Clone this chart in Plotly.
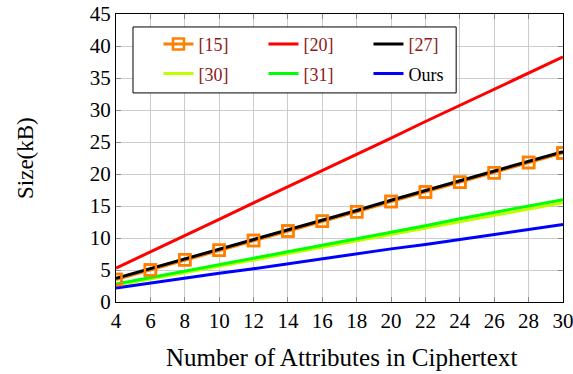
import plotly.graph_objects as go

x_vals = [4, 6, 8, 10, 12, 14, 16, 18, 20, 22, 24, 26, 28, 30]
ref15 = [3.5, 5.0, 6.6, 8.1, 9.6, 11.1, 12.6, 14.1, 15.7, 17.2, 18.7, 20.2, 21.8, 23.3]
ref20 = [5.3, 7.8, 10.4, 12.9, 15.5, 18.0, 20.5, 23.1, 25.6, 28.2, 30.7, 33.2, 35.8, 38.3]
ref27 = [3.7, 5.2, 6.8, 8.3, 9.8, 11.3, 12.8, 14.3, 15.9, 17.4, 18.9, 20.4, 22.0, 23.5]
ref30 = [2.6, 3.6, 4.6, 5.6, 6.6, 7.6, 8.5, 9.5, 10.5, 11.5, 12.5, 13.5, 14.5, 15.5]
ref31 = [2.8, 3.8, 4.8, 5.8, 6.9, 7.9, 8.9, 9.9, 10.9, 11.9, 13.0, 14.0, 15.0, 16.0]
ours = [2.2, 3.0, 3.7, 4.5, 5.2, 6.0, 6.8, 7.5, 8.3, 9.0, 9.8, 10.6, 11.3, 12.1]

x_title = "Number of Attributes in Ciphertext"
y_title = "Size(kB)"

CITE = "#8b1a1a"
FONT = "Liberation Serif"

def cite(s):
    return f'<span style="color:{CITE}">{s}</span>'

ORANGE = "#ff8000"
LW = 3
fig = go.Figure()
fig.add_trace(go.Scatter(x=x_vals, y=ref15, mode="lines+markers", name=cite("[15]"),
                         line=dict(color=ORANGE, width=LW),
                         marker=dict(symbol="square-open", size=11, color=ORANGE, line=dict(width=2.5, color=ORANGE)),
                         legend="legend", legendrank=1))
fig.add_trace(go.Scatter(x=x_vals, y=ref20, mode="lines", name=cite("[20]"),
                         line=dict(color="#ff0000", width=LW), legend="legend", legendrank=2))
fig.add_trace(go.Scatter(x=x_vals, y=ref30, mode="lines", name=cite("[30]"),
                         line=dict(color="#bfff00", width=LW), legend="legend2", legendrank=4))
fig.add_trace(go.Scatter(x=x_vals, y=ref31, mode="lines", name=cite("[31]"),
                         line=dict(color="#00ff00", width=LW), legend="legend2", legendrank=5))
fig.add_trace(go.Scatter(x=x_vals, y=ours, mode="lines", name="Ours",
                         line=dict(color="#0000ff", width=LW), legend="legend2", legendrank=6))
fig.add_trace(go.Scatter(x=x_vals, y=ref27, mode="lines", name=cite("[27]"),
                         line=dict(color="#000000", width=LW), legend="legend", legendrank=3))
fig.add_trace(go.Scatter(x=x_vals, y=ref15, mode="markers", showlegend=False,
                         marker=dict(symbol="square-open", size=11, color=ORANGE, line=dict(width=2.5, color=ORANGE))))

axis_common = dict(showgrid=True, gridcolor="#cccccc", gridwidth=1, showline=True, linecolor="black",
                   linewidth=1, mirror="ticks", ticks="inside", ticklen=5, tickcolor="#888888",
                   tickfont=dict(family=FONT, size=21, color="black"), zeroline=False, automargin=False,
                   ticklabeloverflow="allow")

fig.update_layout(
    width=573, height=374,
    margin=dict(l=116, r=10, t=14, b=72),
    plot_bgcolor="white", paper_bgcolor="white",
    font=dict(family=FONT, color="black"),
    xaxis=dict(range=[4, 30], dtick=2, tick0=4, **axis_common),
    yaxis=dict(range=[0, 45], dtick=5, tick0=0, **axis_common),
    legend=dict(orientation="h", x=0.095, xanchor="left", y=0.895, yanchor="middle",
                bgcolor="rgba(0,0,0,0)", font=dict(family=FONT, size=18), entrywidth=60,
                traceorder="normal", itemwidth=30),
    legend2=dict(orientation="h", x=0.095, xanchor="left", y=0.792, yanchor="middle",
                 bgcolor="rgba(0,0,0,0)", font=dict(family=FONT, size=18), entrywidth=60,
                 traceorder="normal", itemwidth=30),
    shapes=[dict(type="rect", xref="paper", yref="paper", x0=0.038, x1=0.761, y0=0.726, y1=0.955,
                 line=dict(color="black", width=1), fillcolor="white", layer="above")],
    annotations=[
        dict(text=x_title, xref="paper", yref="paper", x=0.504, y=-0.191, xanchor="center", yanchor="middle",
             showarrow=False, font=dict(family=FONT, size=25, color="black")),
        dict(text=y_title, xref="paper", yref="paper", x=-0.2036, y=0.5, xanchor="center", yanchor="middle",
             textangle=-90, showarrow=False, font=dict(family=FONT, size=23, color="black")),
    ],
)

fig.write_html("out.html", config={"displayModeBar": False},
               post_script="document.body.style.margin='0';document.body.style.overflow='hidden';")
